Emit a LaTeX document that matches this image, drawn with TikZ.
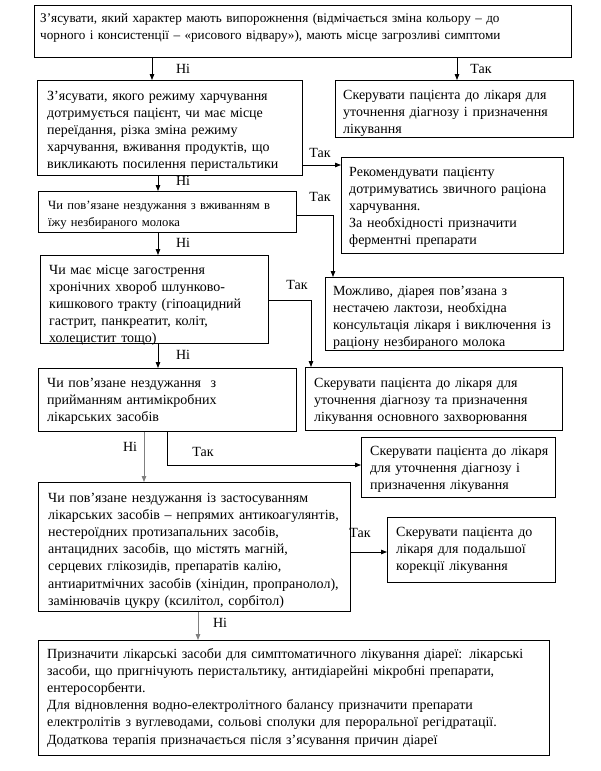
\documentclass[tikz,border=0pt]{standalone}
\usepackage{fontspec}
\setmainfont{Liberation Serif}
\usetikzlibrary{arrows.meta}
\begin{document}
\begin{tikzpicture}[x=1pt,y=-1pt,
  bx/.style={draw, line width=0.9pt, inner sep=0pt, anchor=north west},
  tx/.style={inner sep=0pt, anchor=base west, align=left, text width=560, font=\fontsize{14}{17.2}\selectfont},
  txs/.style={tx, font=\fontsize{12.6}{17}\selectfont},
  txm/.style={tx, font=\fontsize{13.2}{17}\selectfont},
  lb/.style={inner sep=0pt, font=\fontsize{14}{17}\selectfont},
  arr/.style={line width=0.8pt, -{Triangle[length=6pt,width=4.5pt]}},
  garr/.style={arr, draw=gray}
]
\fill[white] (0,0) rectangle (600,771);
\useasboundingbox (0,0) rectangle (600,771);

% boxes
\node[bx, minimum width=537, minimum height=52] (b1) at (34,5) {};
\node[txm] (b1t) at (40,23) {З’ясувати, який характер мають випорожнення (відмічається зміна кольору – до\\чорного і консистенції – «рисового відвару»), мають місце загрозливі симптоми};

\node[bx, minimum width=265, minimum height=95] (b2) at (37,80) {};
\node[tx] (b2t) at (47,100) {З’ясувати, якого режиму харчування\\дотримується пацієнт, чи має місце\\переїдання, різка зміна режиму\\харчування, вживання продуктів, що\\викликають посилення перистальтики};

\node[bx, minimum width=238, minimum height=57] (s1) at (335,80) {};
\node[tx] (s1t) at (343,99) {Скерувати пацієнта до лікаря для\\уточнення діагнозу і призначення\\лікування};

\node[bx, minimum width=222, minimum height=96] (rec) at (341,157) {};
\node[tx] (rect) at (349,176) {Рекомендувати пацієнту\\дотримуватись звичного раціона\\харчування.\\За необхідності призначити\\ферментні препарати};

\node[bx, minimum width=258, minimum height=41] (b3) at (38,191) {};
\node[txs] (b3t) at (48,209) {Чи пов’язане нездужання з вживанням в\\їжу незбираного молока};

\node[bx, minimum width=238, minimum height=73] (m) at (325,277) {};
\node[tx] (mt) at (333,295) {Можливо, діарея пов’язана з\\нестачею лактози, необхідна\\консультація лікаря і виключення із\\раціону незбираного молока};

\node[bx, minimum width=228, minimum height=88] (b4) at (40,255) {};
\node[tx] (b4t) at (49,274) {Чи має місце загострення\\хронічних хвороб шлунково-\\кишкового тракту (гіпоацидний\\гастрит, панкреатит, коліт,\\холецистит тощо)};

\node[bx, minimum width=257, minimum height=63] (s2) at (305,367) {};
\node[tx] (s2t) at (314,387) {Скерувати пацієнта до лікаря для\\уточнення діагнозу та призначення\\лікування основного захворювання};

\node[bx, minimum width=258, minimum height=63] (b5) at (38,368) {};
\node[tx] (b5t) at (47,387) {Чи пов’язане нездужання~ з\\прийманням антимікробних\\лікарських засобів};

\node[bx, minimum width=194, minimum height=60] (s3) at (361,437) {};
\node[tx] (s3t) at (370,455) {Скерувати пацієнта до лікаря\\для уточнення діагнозу і\\призначення лікування};

\node[bx, minimum width=312, minimum height=129] (b6) at (38,482) {};
\node[tx] (b6t) at (48,502) {Чи пов’язане нездужання із застосуванням\\лікарських засобів – непрямих антикоагулянтів,\\нестероїдних протизапальних засобів,\\антацидних засобів, що містять магній,\\серцевих глікозидів, препаратів калію,\\антиаритмічних засобів (хінідин, пропранолол),\\замінювачів цукру (ксилітол, сорбітол)};

\node[bx, minimum width=168, minimum height=65] (s4) at (387,517) {};
\node[tx] (s4t) at (396,536) {Скерувати пацієнта до\\лікаря для подальшої\\корекції лікування};

\node[bx, minimum width=511, minimum height=115] (b7) at (38,640) {};
\node[tx] (b7t) at (47,658) {Призначити лікарські засоби для симптоматичного лікування діареї: лікарські\\засоби, що пригнічують перистальтику, антидіарейні мікробні препарати,\\ентеросорбенти.\\Для відновлення водно-електролітного балансу призначити препарати\\електролітів з вуглеводами, сольові сполуки для пероральної регідратації.\\Додаткова терапія призначається після з’ясування причин діареї};

% connectors
\draw[arr] ([xshift=118]b1.south west) -- ([xshift=115]b2.north west);
\draw[arr] ([xshift=423]b1.south west) -- ([xshift=122]s1.north west);
\draw[arr] ([yshift=-85]b2.north east) -- ([yshift=-8]rec.north west);
\draw[arr] ([xshift=121]b2.south west) -- ([xshift=120]b3.north west);
\draw[arr] ([yshift=-24]b3.north east) -| ([xshift=8]m.north west);
\draw[arr] ([xshift=120]b3.south west) -- ([xshift=118]b4.north west);
\draw[arr] ([yshift=-45]b4.north east) -| ([xshift=6]s2.north west);
\draw[arr] ([xshift=118]b4.south west) -- ([xshift=120]b5.north west);
\draw[garr] ([xshift=106]b5.south west) -- ([xshift=106]b6.north west);
\draw[arr] ([xshift=129]b5.south west) |- ([yshift=-28]s3.north west);
\draw[arr] ([yshift=-70]b6.north east) -- ([yshift=-35]s4.north west);
\draw[garr] ([xshift=160]b6.south west) -- ([xshift=160]b7.north west);

% labels
\node[lb] (l1) at (183,69) {Ні};
\node[lb] (l2) at (481,69) {Так};
\node[lb] (l3) at (320,153) {Так};
\node[lb] (l4) at (183,181) {Ні};
\node[lb] (l5) at (320,197) {Так};
\node[lb] (l6) at (183,243) {Ні};
\node[lb] (l7) at (297,285) {Так};
\node[lb] (l8) at (183,355) {Ні};
\node[lb] (l9) at (130,447) {Ні};
\node[lb] (l10) at (203,452) {Так};
\node[lb] (l11) at (360,533) {Так};
\node[lb] (l12) at (220,623) {Ні};
\end{tikzpicture}
\end{document}
